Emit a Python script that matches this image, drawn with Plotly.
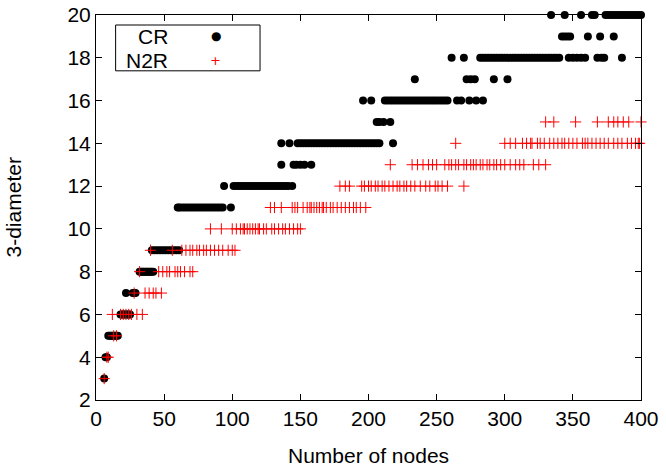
import plotly.graph_objects as go

# ---- data: diameter level -> list of node counts ----
cr_levels = [3, 4, 5, 6, 7, 8, 9, 11, 12, 13, 14, 15, 16, 17, 18, 19, 20]
cr_nodes = [
    [6],
    [7, 8],
    [9, 10, 11, 12, 13, 14, 15, 16],
    [18, 19, 20, 21, 22, 23, 24, 25],
    [22, 27, 28, 29],
    [32, 33, 34, 35, 36, 37, 38, 39, 40, 41, 42],
    [41, 43, 45, 47, 49, 51, 53, 55, 57, 59, 61],
    [60, 61, 63, 65, 67, 69, 71, 73, 75, 77, 79, 81, 83, 85, 87, 89, 91, 93, 99],
    [94, 101, 103, 105, 107, 109, 111, 113, 115, 117, 119, 121, 123, 125, 127,
     129, 131, 133, 135, 137, 139, 141, 144],
    [136, 145, 147, 150, 153, 158],
    [136, 142, 148, 150, 152, 154, 156, 158, 160, 162, 164, 166, 168, 170, 172,
     174, 176, 178, 180, 182, 184, 186, 188, 190, 192, 194, 196, 198, 200, 202,
     204, 206, 208, 218],
    [206, 208, 211, 216],
    [196, 202, 212, 214, 216, 218, 220, 222, 224, 226, 228, 230, 232, 234, 236,
     238, 240, 242, 244, 246, 248, 250, 252, 254, 256, 258, 265, 268, 274, 279,
     284],
    [234, 272, 275, 278, 292, 302],
    [261, 270, 282, 284, 286, 288, 290, 292, 294, 296, 298, 300, 302, 304, 306,
     308, 310, 312, 314, 316, 318, 320, 322, 324, 326, 328, 330, 332, 334, 336,
     338, 340, 347, 350, 353, 356, 359, 368, 371, 373, 386],
    [342, 344, 346, 348, 361, 370, 380],
    [334, 344, 356, 364, 366, 374, 376, 378, 380, 382, 384, 386, 388, 390, 392,
     394, 396, 398, 400],
]

n2r_levels = [3, 4, 5, 6, 7, 8, 9, 10, 11, 12, 13, 14, 15]
n2r_nodes = [
    [6],
    [8, 9],
    [13, 15],
    [12, 18, 20, 22, 24, 26, 30, 34],
    [28, 36, 39, 42, 44, 48],
    [32, 46, 49, 52, 54, 58, 60, 62, 65, 69, 71],
    [40, 56, 63, 66, 69, 71, 74, 76, 79, 81, 84, 87, 90, 93, 97, 100, 102],
    [84, 92, 100, 103, 106, 108, 109, 111, 113, 115, 117, 119, 120, 123, 125,
     129, 131, 134, 137, 139, 142, 145, 148, 150],
    [128, 131, 136, 144, 146, 148, 152, 155, 157, 158, 160, 162, 164, 166, 167,
     169, 172, 174, 177, 180, 183, 186, 189, 191, 194, 198],
    [179, 183, 186, 195, 197, 200, 202, 205, 207, 210, 212, 215, 218, 221, 223,
     226, 228, 231, 234, 238, 242, 245, 249, 251, 254, 258, 270],
    [216, 232, 236, 240, 244, 247, 250, 256, 259, 261, 264, 266, 270, 272, 275,
     277, 279, 282, 284, 287, 289, 292, 294, 297, 300, 304, 308, 311, 314, 321,
     325, 330],
    [264, 300, 304, 308, 313, 316, 319, 320, 324, 326, 329, 333, 336, 339, 342,
     344, 347, 350, 353, 357, 359, 361, 364, 367, 370, 373, 376, 380, 383, 386,
     390, 393, 396, 398, 399],
    [330, 336, 352, 368, 376, 380, 383, 387, 391, 400],
]

x_ticks = [0, 50, 100, 150, 200, 250, 300, 350, 400]
y_ticks = [2, 4, 6, 8, 10, 12, 14, 16, 18, 20]


def flatten(levels, nodes):
    xs, ys = [], []
    for lv, ns in zip(levels, nodes):
        for n in ns:
            xs.append(n)
            ys.append(lv)
    return xs, ys


cr_x, cr_y = flatten(cr_levels, cr_nodes)
n2r_x, n2r_y = flatten(n2r_levels, n2r_nodes)

FONT = "Liberation Sans, Arial, Helvetica, sans-serif"
FS = 21

fig = go.Figure()
fig.add_trace(go.Scatter(
    x=cr_x, y=cr_y, mode="markers", name="CR", cliponaxis=False,
    marker=dict(symbol="circle", size=8, color="black", line=dict(width=0)),
))
fig.add_trace(go.Scatter(
    x=n2r_x, y=n2r_y, mode="markers", name="N2R", cliponaxis=False,
    marker=dict(symbol="cross-thin", size=8, color="red",
                line=dict(color="red", width=1)),
))

axis_common = dict(
    showline=True, linecolor="black", linewidth=1, mirror="ticks",
    ticks="inside", ticklen=6, tickcolor="black", tickwidth=1,
    showgrid=False, zeroline=False,
    tickfont=dict(family=FONT, size=FS, color="black"),
)

fig.update_layout(
    width=666, height=474,
    margin=dict(l=96, r=25, t=15, b=74, autoexpand=False),
    paper_bgcolor="white", plot_bgcolor="white",
    showlegend=False,
    xaxis=dict(range=[0, 400], tickvals=x_ticks, **axis_common),
    yaxis=dict(range=[2, 20], tickvals=y_ticks, **axis_common),
    shapes=[dict(type="rect", xref="paper", yref="paper",
                 x0=0.036, x1=0.301, y0=0.855, y1=0.974,
                 line=dict(color="black", width=1), fillcolor="white",
                 layer="above")],
    annotations=[
        dict(text="Number of nodes", xref="paper", yref="paper", x=0.5, y=-0.145,
             xanchor="center", yanchor="middle", showarrow=False,
             font=dict(family=FONT, size=FS, color="black")),
        dict(text="3-diameter", xref="paper", yref="paper", x=-0.1505, y=0.5,
             xanchor="center", yanchor="middle", textangle=-90, showarrow=False,
             font=dict(family=FONT, size=FS, color="black")),
        dict(text="CR", xref="paper", yref="paper", x=0.136, y=0.945,
             xanchor="right", yanchor="middle", showarrow=False,
             font=dict(family=FONT, size=FS, color="black")),
        dict(text="N2R", xref="paper", yref="paper", x=0.136, y=0.883,
             xanchor="right", yanchor="middle", showarrow=False,
             font=dict(family=FONT, size=FS, color="black")),
        dict(text="●", xref="paper", yref="paper", x=0.220, y=0.945,
             xanchor="center", yanchor="middle", showarrow=False,
             font=dict(family="DejaVu Sans", size=12, color="black")),
        dict(text="+", xref="paper", yref="paper", x=0.220, y=0.883,
             xanchor="center", yanchor="middle", showarrow=False,
             font=dict(family="DejaVu Sans", size=13, color="red")),
    ],
)

fig.write_html("out.html", config={"displayModeBar": False, "staticPlot": True})

# remove the browser's default page margin so the figure sits at (0, 0)
with open("out.html", "r", encoding="utf-8") as fh:
    html = fh.read()
html = html.replace("<head>", "<head><style>html,body{margin:0;padding:0;overflow:hidden;}</style>", 1)
with open("out.html", "w", encoding="utf-8") as fh:
    fh.write(html)
